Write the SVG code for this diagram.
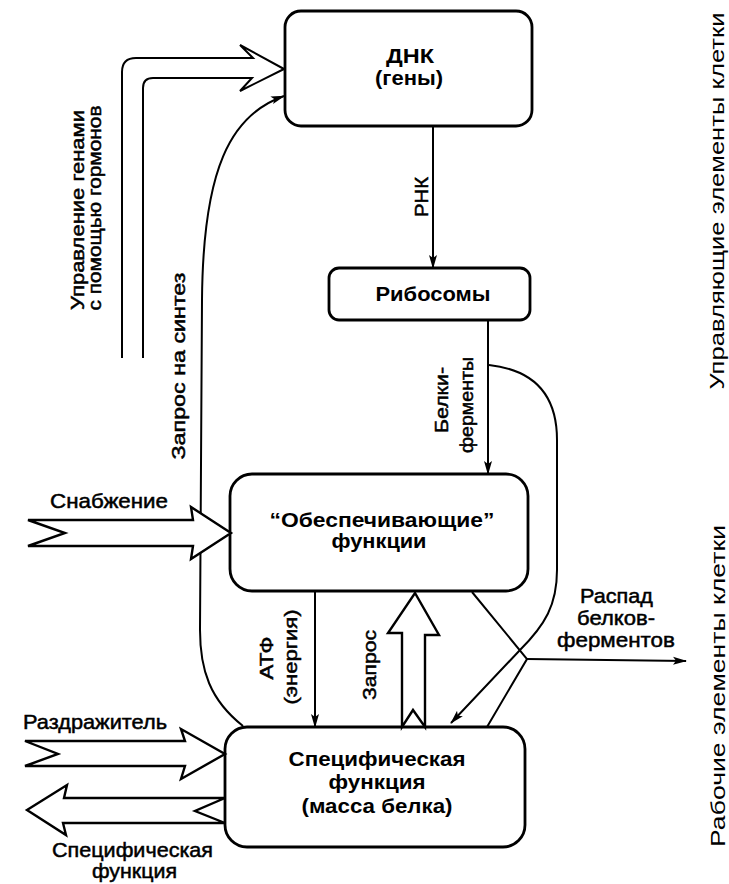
<svg xmlns="http://www.w3.org/2000/svg" width="729" height="884" viewBox="0 0 729 884">
<style>
text{font-family:"Liberation Sans",Arial,sans-serif;fill:#000}
.bx{fill:#fff;stroke:#000;stroke-width:2.8}
.bt{font-weight:bold;font-size:21px;text-anchor:middle}
.lb{font-size:21px;stroke:#000;stroke-width:0.5}
.rl{font-size:19px;text-anchor:middle;stroke:#000;stroke-width:0.5}
.side{font-size:20px;text-anchor:middle}
.ln{fill:none;stroke:#000;stroke-width:2}
.ha{fill:#fff;stroke:#000;stroke-width:2.4;stroke-linejoin:miter}
</style>
<defs>
<marker id="ah" viewBox="0 0 14 10" refX="13" refY="5" markerWidth="14" markerHeight="10" markerUnits="userSpaceOnUse" orient="auto"><path d="M0,1 L14,5 L0,9 L3,5 Z" fill="#000"/></marker>
</defs>

<g id="connectors">
<path class="ln" d="M122,358 L122,72 Q122,58 136,58 L253,58 L240,45 L284,69"/>
<path class="ln" d="M143,358 L143,88 Q143,78 153,78 L252,78 L240,91 L284,69"/>
<path class="ln" d="M243,726 C210,700 200,670 200,630 L202,300 C203,170 230,115 284,96" marker-end="url(#ah)"/>
<path class="ln" d="M433,127 L433,268" marker-end="url(#ah)"/>
<path class="ln" d="M488,320 L488,474" marker-end="url(#ah)"/>
<path class="ln" d="M315,592 L315,727" marker-end="url(#ah)"/>
<path class="ln" d="M489,365 C535,370 557,395 557,440 L557,570 C557,605 545,625 520,650 L451,723" marker-end="url(#ah)"/>
<path class="ln" d="M472,592 L527,659 L487,727"/>
<path class="ln" d="M527,659 L686,661" marker-end="url(#ah)"/>
</g>

<g id="dna">
<rect class="bx" x="285" y="11" width="247" height="115" rx="16"/>
<text class="bt" x="410" y="63" font-size="20" textLength="48" lengthAdjust="spacingAndGlyphs">ДНК</text>
<text class="bt" x="409" y="85" font-size="20" textLength="68" lengthAdjust="spacingAndGlyphs">(гены)</text>
</g>

<g id="ribosomes">
<rect class="bx" x="329" y="268" width="201" height="52" rx="10"/>
<text class="bt" x="433" y="301" textLength="115" lengthAdjust="spacingAndGlyphs">Рибосомы</text>
</g>

<g id="support">
<rect class="bx" x="230" y="474" width="298" height="117" rx="22"/>
<text class="bt" x="382" y="527" textLength="225" lengthAdjust="spacingAndGlyphs">“Обеспечивающие”</text>
<text class="bt" x="379" y="548" textLength="95" lengthAdjust="spacingAndGlyphs">функции</text>
</g>

<g id="specific">
<rect class="bx" x="225" y="727" width="300" height="120" rx="22"/>
<text class="bt" x="377" y="766" textLength="177" lengthAdjust="spacingAndGlyphs">Специфическая</text>
<text class="bt" x="377" y="789" textLength="97" lengthAdjust="spacingAndGlyphs">функция</text>
<text class="bt" x="377" y="813" textLength="151" lengthAdjust="spacingAndGlyphs">(масса белка)</text>
</g>

<g id="hollow-arrows">
<path class="ha" d="M28,520 L193,520 L191,507 L231,533 L191,559 L193,546 L28,546 L65,533 Z"/>
<path class="ha" d="M25,741 L185,741 L181,729 L225,754 L181,779 L185,766 L25,766 L58,754 Z"/>
<path class="ha" d="M225,798 L64,798 L67,785 L27,810 L66,835 L63,823 L225,823 L195,811 Z"/>
<path class="ha" d="M402,727 L402,633 L388,633 L415,593 L439,635 L425,635 L425,727 L413,710 Z"/>
</g>

<g id="labels">
<text class="rl" transform="translate(84,210) rotate(-90)" textLength="200" lengthAdjust="spacingAndGlyphs">Управление генами</text>
<text class="rl" transform="translate(101,208) rotate(-90)" textLength="205" lengthAdjust="spacingAndGlyphs">с помощью гормонов</text>
<text class="rl" transform="translate(185,366) rotate(-90)" textLength="187" lengthAdjust="spacingAndGlyphs">Запрос на синтез</text>
<text class="rl" transform="translate(428,197) rotate(-90)" textLength="40" lengthAdjust="spacingAndGlyphs">РНК</text>
<text class="rl" transform="translate(448,400) rotate(-90)" textLength="66" lengthAdjust="spacingAndGlyphs">Белки-</text>
<text class="rl" transform="translate(473,405) rotate(-90)" textLength="96" lengthAdjust="spacingAndGlyphs">ферменты</text>
<text class="rl" transform="translate(273,658) rotate(-90)" textLength="43" lengthAdjust="spacingAndGlyphs">АТФ</text>
<text class="rl" transform="translate(297,657) rotate(-90)" textLength="95" lengthAdjust="spacingAndGlyphs">(энергия)</text>
<text class="rl" transform="translate(376,665) rotate(-90)" textLength="70" lengthAdjust="spacingAndGlyphs">Запрос</text>
<text class="lb" x="50" y="508" textLength="118" lengthAdjust="spacingAndGlyphs">Снабжение</text>
<text class="lb" x="23" y="729" textLength="144" lengthAdjust="spacingAndGlyphs">Раздражитель</text>
<text class="lb" x="52" y="857" textLength="161" lengthAdjust="spacingAndGlyphs">Специфическая</text>
<text class="lb" x="92" y="878" textLength="85" lengthAdjust="spacingAndGlyphs">функция</text>
<text class="lb" x="580" y="603" textLength="73" lengthAdjust="spacingAndGlyphs">Распад</text>
<text class="lb" x="577" y="625" textLength="78" lengthAdjust="spacingAndGlyphs">белков-</text>
<text class="lb" x="557" y="647" textLength="118" lengthAdjust="spacingAndGlyphs">ферментов</text>
<text class="side" transform="translate(724,201) rotate(-90)" textLength="377" lengthAdjust="spacingAndGlyphs">Управляющие элементы клетки</text>
<text class="side" transform="translate(725,686) rotate(-90)" textLength="322" lengthAdjust="spacingAndGlyphs">Рабочие элементы клетки</text>
</g>
</svg>
